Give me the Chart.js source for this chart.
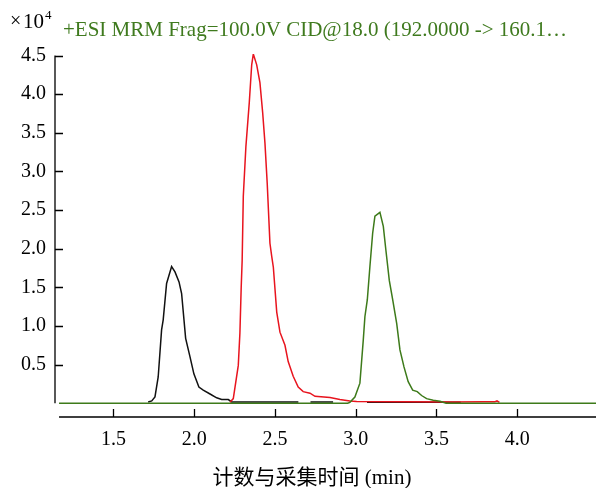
<!DOCTYPE html>
<html>
<head>
<meta charset="utf-8">
<script src="https://cdn.jsdelivr.net/npm/chart.js@4.4.1/dist/chart.umd.min.js"></script>
<style>
  html, body { margin: 0; padding: 0; background: #fff; }
</style>
</head>
<body>
<canvas id="chrom" width="596" height="488"></canvas>
<script>
// MRM chromatogram, counts in units of 10^4, time in minutes
const xTicks = [1.5, 2.0, 2.5, 3.0, 3.5, 4.0];
const yTicks = [0.5, 1.0, 1.5, 2.0, 2.5, 3.0, 3.5, 4.0, 4.5];

const titleText = "+ESI MRM Frag=100.0V CID@18.0 (192.0000 -> 160.1\u2026";
const xTitle = "计数与采集时间 (min)";

// black trace (peak ~1.86 min), null = gap in the trace
const blackTime = [1.715, 1.737, 1.757, 1.777, 1.798, 1.808, 1.829, 1.860, 1.881, 1.906,
    1.922, 1.947, 1.974, 1.998, 2.029, 2.056, 2.098, 2.139, 2.170, 2.211, 2.232, 2.40, 2.645,
    2.68, 2.72, 2.86, 2.96, 3.07, 3.65];
const blackCounts = [0.017, 0.03, 0.082, 0.34, 0.95, 1.08, 1.55, 1.77, 1.70, 1.57,
    1.42, 0.84, 0.60, 0.38, 0.21, 0.17, 0.12, 0.07, 0.05, 0.048, 0.017, 0.016, 0.016,
    null, 0.015, 0.015, null, 0.014, 0.014];

// red trace (peak ~2.37 min)
const redTime = [2.222, 2.242, 2.273, 2.283, 2.291, 2.297, 2.304, 2.320, 2.341, 2.356,
    2.366, 2.387, 2.407, 2.424, 2.438, 2.452, 2.469, 2.480, 2.490, 2.511, 2.531, 2.562,
    2.582, 2.613, 2.644, 2.675, 2.717, 2.748, 2.841, 2.902, 2.964, 3.006, 3.30, 3.60,
    3.80, 3.86, 3.875, 3.89];
const redCounts = [0.012, 0.06, 0.49, 0.91, 1.50, 1.85, 2.68, 3.32, 3.89, 4.38,
    4.52, 4.38, 4.15, 3.76, 3.37, 2.85, 2.07, 1.90, 1.76, 1.18, 0.92, 0.75,
    0.54, 0.35, 0.21, 0.15, 0.13, 0.09, 0.074, 0.048, 0.03, 0.022, 0.018, 0.016,
    0.02, 0.018, 0.03, 0.012];

// green trace (peak ~3.15 min), runs over the whole window
const greenTime = [1.163, 2.95, 2.964, 2.995, 3.026, 3.047, 3.057, 3.072, 3.088, 3.105, 3.119, 3.150,
    3.171, 3.187, 3.208, 3.229, 3.254, 3.274, 3.299, 3.325, 3.353, 3.381, 3.408, 3.439,
    3.480, 3.522, 3.56, 4.488];
const greenCounts = [0, 0, 0.012, 0.08, 0.26, 0.82, 1.12, 1.34, 1.77, 2.20, 2.42, 2.47,
    2.29, 1.98, 1.59, 1.34, 1.03, 0.69, 0.47, 0.28, 0.17, 0.15, 0.10, 0.06,
    0.04, 0.026, 0, 0];

const toPoints = (t, c) => t.map((x, i) => ({ x: x, y: c[i] }));

const serif = "'Liberation Serif', 'Times New Roman', 'Noto Sans CJK SC', serif";

// axis lines + inward ticks, plus the header / axis title texts
const axisPlugin = {
    id: "axisPlugin",
    afterDraw(chart) {
        const ctx = chart.ctx;
        const x = chart.scales.x, y = chart.scales.y;
        const area = chart.chartArea;
        ctx.save();
        ctx.strokeStyle = "#000";
        ctx.lineWidth = 1.3;

        // y axis
        const yTop = y.getPixelForValue(4.5), yBot = y.getPixelForValue(0);
        ctx.beginPath();
        ctx.moveTo(area.left, yTop);
        ctx.lineTo(area.left, yBot);
        yTicks.forEach(v => {
            const py = Math.round(y.getPixelForValue(v)) + 0.5;
            ctx.moveTo(area.left, py);
            ctx.lineTo(area.left + 8, py);
        });
        ctx.stroke();

        // x axis, offset below the data
        const xStart = x.getPixelForValue(1.163);
        ctx.beginPath();
        ctx.moveTo(xStart, area.bottom);
        ctx.lineTo(area.right, area.bottom);
        xTicks.forEach(v => {
            const px = Math.round(x.getPixelForValue(v)) + 0.5;
            ctx.moveTo(px, area.bottom);
            ctx.lineTo(px, area.bottom - 8);
        });
        ctx.stroke();

        // header
        ctx.textBaseline = "alphabetic";
        ctx.fillStyle = "#3f7a1e";
        ctx.font = "21px " + serif;
        ctx.fillText(titleText, 63, 36);

        ctx.fillStyle = "#000";
        ctx.font = "20px " + serif;
        ctx.fillText("\u00d7", 10, 27);
        ctx.font = "21px " + serif;
        ctx.fillText("10", 23, 28);
        ctx.font = "13px " + serif;
        ctx.fillText("4", 45, 19);

        // x axis title
        ctx.font = "21px " + serif;
        ctx.textAlign = "center";
        ctx.fillText(xTitle, 312, 484);
        ctx.restore();
    }
};

new Chart(document.getElementById("chrom"), {
    type: "line",
    data: {
        datasets: [
            { data: toPoints(greenTime, greenCounts), borderColor: "#3d7a1a" },
            { data: toPoints(redTime, redCounts), borderColor: "#e8141e" },
            { data: toPoints(blackTime, blackCounts), borderColor: "#111" }
        ]
    },
    options: {
        responsive: false,
        animation: false,
        devicePixelRatio: 1,
        spanGaps: false,
        layout: { padding: { top: 54, right: 0, left: 0, bottom: 0 } },
        elements: {
            point: { radius: 0 },
            line: { borderWidth: 1.5, tension: 0 }
        },
        plugins: {
            legend: { display: false },
            tooltip: { enabled: false }
        },
        scales: {
            x: {
                type: "linear",
                min: 1.138,
                max: 4.488,
                afterBuildTicks: s => { s.ticks = xTicks.map(v => ({ value: v })); },
                afterFit: s => { s.height = 71; },
                grid: { display: false, drawTicks: false },
                border: { display: false },
                ticks: {
                    autoSkip: false,
                    maxRotation: 0,
                    padding: 11,
                    color: "#000",
                    font: { family: serif, size: 20 },
                    callback: v => v.toFixed(1)
                }
            },
            y: {
                min: -0.178,
                max: 4.52,
                afterBuildTicks: s => { s.ticks = yTicks.map(v => ({ value: v })); },
                afterFit: s => { s.width = 55; },
                grid: { display: false, drawTicks: false },
                border: { display: false },
                ticks: {
                    autoSkip: false,
                    padding: 9,
                    color: "#000",
                    font: { family: serif, size: 20 },
                    callback: v => v.toFixed(1)
                }
            }
        }
    },
    plugins: [axisPlugin]
});
</script>
</body>
</html>
